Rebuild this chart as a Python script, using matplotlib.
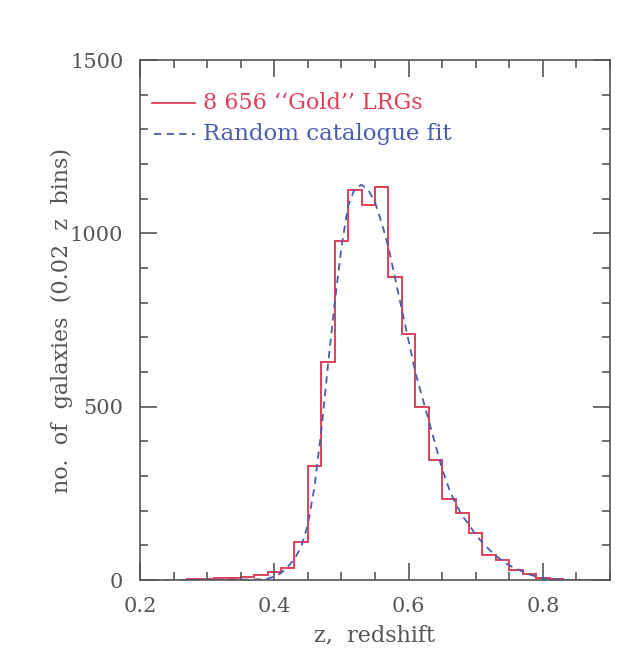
import matplotlib
matplotlib.use("Agg")
import matplotlib.pyplot as plt
from matplotlib.ticker import MultipleLocator

# Histogram: left bin edges (width 0.02) and counts
bin_left = [0.27, 0.29, 0.31, 0.33, 0.35, 0.37, 0.39, 0.41, 0.43, 0.45, 0.47, 0.49,
            0.51, 0.53, 0.55, 0.57, 0.59, 0.61, 0.63, 0.65, 0.67, 0.69, 0.71, 0.73,
            0.75, 0.77, 0.79, 0.81, 0.83, 0.85, 0.87]
counts = [3, 4, 6, 6, 8, 14, 22, 35, 110, 329, 628, 978,
          1125, 1083, 1135, 873, 710, 498, 346, 234, 194, 137, 73, 58,
          29, 17, 6, 4, 0, 0, 0]

# Random catalogue fit curve
fit_z = [0.20, 0.25, 0.30, 0.35, 0.38, 0.39, 0.40, 0.41, 0.42, 0.43, 0.44, 0.45,
         0.46, 0.47, 0.48, 0.49, 0.50, 0.51, 0.52, 0.53, 0.54, 0.55, 0.56, 0.57,
         0.58, 0.59, 0.60, 0.61, 0.62, 0.63, 0.64, 0.65, 0.66, 0.67, 0.68, 0.69,
         0.70, 0.71, 0.72, 0.73, 0.74, 0.75, 0.76, 0.77, 0.78, 0.79, 0.80, 0.81,
         0.82, 0.83, 0.85, 0.90]
fit_n = [0, 0, 0, 1, 2, 4, 10, 20, 38, 60, 95, 160,
         270, 430, 620, 800, 960, 1080, 1130, 1140, 1125, 1090, 1030, 960,
         870, 780, 690, 600, 530, 460, 390, 320, 265, 220, 185, 160,
         130, 108, 88, 70, 55, 42, 33, 24, 16, 10, 5, 3,
         2, 1, 0, 0]

xtick_vals = [0.2, 0.4, 0.6, 0.8]
xtick_labels = ["0.2", "0.4", "0.6", "0.8"]
label_hist = "8 656 \u2018\u2018Gold\u2019\u2019 LRGs"
label_fit = "Random catalogue fit"
xlabel = "z,  redshift"
ylabel = "no.  of  galaxies  (0.02  z  bins)"

red = "#e0405a"
blue = "#4a5cb0"
grey = "#555555"

plt.rcParams['font.family'] = ['DejaVu Serif']

fig = plt.figure(figsize=(6.38, 6.6), dpi=100)
ax = fig.add_axes([140/638, 80/660, 470/638, 520/660])

edges = list(bin_left) + [bin_left[-1] + 0.02]
ax.stairs(counts, edges, color=red, lw=1.4)
ax.plot(fit_z, fit_n, color=blue, lw=1.3, ls=(0, (4, 3)))

ax.set_xlim(0.2, 0.9)
ax.set_ylim(0, 1500)
ax.xaxis.set_minor_locator(MultipleLocator(0.05))
ax.yaxis.set_major_locator(MultipleLocator(500))
ax.yaxis.set_minor_locator(MultipleLocator(100))
ax.set_xticks(xtick_vals)
ax.set_xticklabels(xtick_labels)
ax.tick_params(which='both', direction='in', top=True, right=True, color=grey,
               labelcolor=grey, labelsize=15, width=1.2)
ax.tick_params(which='major', length=12)
ax.tick_params(axis='x', which='major', pad=12)
ax.tick_params(axis='y', which='major', pad=12)
ax.tick_params(which='minor', length=6)
for s in ax.spines.values():
    s.set_color(grey)
    s.set_linewidth(1.2)

ax.set_xlabel(xlabel, color=grey, fontsize=16, labelpad=6)
ax.set_ylabel(ylabel, color=grey, fontsize=16)
ax.yaxis.set_label_coords(-0.143, 0.5)

# legend drawn manually
ax.plot([0.026, 0.117], [0.917, 0.917], transform=ax.transAxes, color=red, lw=1.3)
ax.text(0.134, 0.917, label_hist, transform=ax.transAxes, color=red,
        fontsize=16, va='center', ha='left')
ax.plot([0.030, 0.117], [0.858, 0.858], transform=ax.transAxes, color=blue, lw=1.3,
        ls=(0, (4, 3)))
ax.text(0.134, 0.858, label_fit, transform=ax.transAxes, color=blue,
        fontsize=16.5, va='center', ha='left')

fig.savefig("out.png", dpi=100)
